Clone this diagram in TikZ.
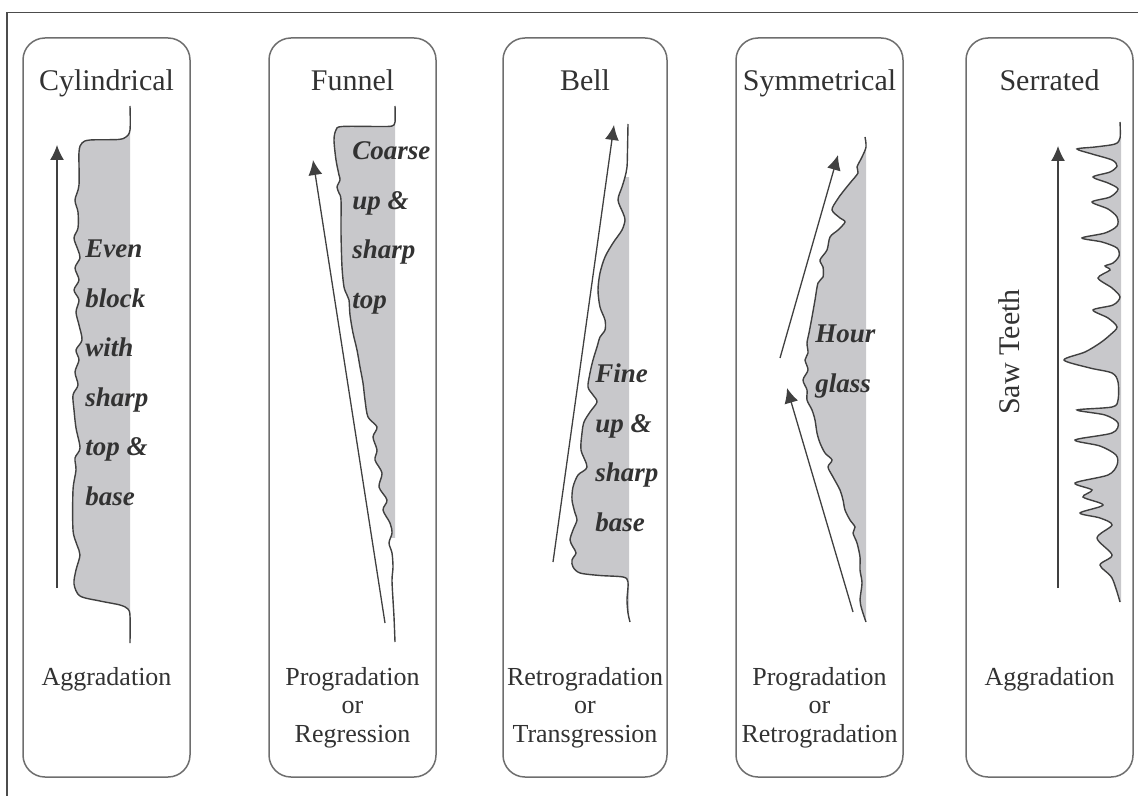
\documentclass[tikz,border=0pt]{standalone}
\usepackage{fontspec}
\setmainfont{Liberation Serif}
\usetikzlibrary{arrows.meta}
\definecolor{logfill}{RGB}{200,200,203}
\definecolor{logline}{RGB}{64,64,64}
\definecolor{boxline}{RGB}{110,110,110}
\definecolor{inktext}{RGB}{50,50,50}
\def\cylcurve{plot[smooth,tension=0.5] coordinates {(130,106) (130,130) (126,137) (118,139.5) (90,140) (82,143) (79,152) (79,185) (75,200) (78,212) (78,228) (74,238) (78,250) (80,258) (75,268) (79,280) (74,290) (79,300) (76,312) (79,325) (82,340) (76,350) (79,360) (75,372) (78,385) (73,395) (74,410) (76,428) (80,448) (75,458) (76,470) (73,490) (73,530) (77,545) (80,555) (76,570) (74,584) (80,596) (100,601) (120,605) (128,609) (130,616) (130,643)}}
\def\funcurve{plot[smooth,tension=0.5] coordinates {(395,106) (395,122) (392,126) (380,126.5) (342,126.5) (336,130) (334,140) (336,160) (339,175) (340,180) (337,187) (339,193) (341,200) (341,233) (342,267) (344,287) (347,295) (349,300) (350,315) (353,333) (357,350) (360,367) (363,383) (365,400) (368,417) (377,427) (373,437) (377,450) (375,460) (382,473) (379,487) (387,500) (383,510) (390,523) (392,533) (389,543) (392,553) (393,567) (392,580) (393,600) (394,617) (395,642)}}
\def\bellcurve{plot[smooth,tension=0.5] coordinates {(628,124) (627.5,150) (627,167) (625,177) (622,187) (618,200) (623,213) (625,220) (622,230) (613,243) (605,257) (600,273) (598,290) (600,307) (605,320) (605,330) (600,337) (597,347) (593,360) (590,373) (588,387) (593,395) (597,402) (590,412) (584,422) (582,433) (581,450) (587,467) (578,475) (573,487) (572,500) (575,513) (577,520) (573,530) (570,540) (573,547) (576,553) (572,560) (573,567) (580,573) (600,575.5) (623,577) (628,582) (627,600) (628,613) (630,622)}}
\def\symcurve{plot[smooth,tension=0.5] coordinates {(865,137) (866,147) (862,157) (857,167) (858,173) (850,183) (842,193) (837,200) (832,210) (840,218) (845,222) (838,230) (830,237) (827,250) (820,260) (823,267) (823,277) (818,283) (815,300) (812,317) (809,333) (807,343) (808,353) (805,360) (808,370) (803,380) (807,390) (807,400) (812,410) (815,420) (817,433) (820,443) (825,453) (832,460) (828,467) (833,477) (840,490) (843,500) (845,510) (850,520) (855,527) (853,533) (857,543) (860,557) (860,570) (862,583) (860,600) (862,610) (866,622)}}
\def\sercurve{plot[smooth,tension=0.5] coordinates {(1120,122) (1120,138) (1115,144) (1095,147) (1077,149) (1092,154) (1112,160) (1117,166) (1110,172) (1093,177) (1108,183) (1118,189) (1110,197) (1092,202) (1108,209) (1117,217) (1117,226) (1105,233) (1082,238) (1102,242) (1117,248) (1119,256) (1113,263) (1105,266) (1110,270) (1098,278) (1112,288) (1120,297) (1113,305) (1093,310) (1108,318) (1117,327) (1110,335) (1100,343) (1085,352) (1064,360) (1090,368) (1112,373) (1118,382) (1118,400) (1112,407) (1077,410) (1105,415) (1118,423) (1112,433) (1075,440) (1100,446) (1116,455) (1117,465) (1108,475) (1075,483) (1092,490) (1083,497) (1103,505) (1080,513) (1100,518) (1112,525) (1097,538) (1112,555) (1100,565) (1112,578) (1120,602)}}
\tikzset{
  panel/.style={draw=boxline, line width=0.75pt, rounded corners=11pt},
  gr/.style={draw=logline, line width=0.7pt},
  trend/.style={draw=logline, line width=0.65pt, -{Latex[length=7.5pt,width=7pt]}},
  title/.style={text=inktext, font=\fontsize{15}{18}\selectfont, anchor=base},
  trendname/.style={text=inktext, font=\fontsize{13}{14.25}\selectfont, align=center, anchor=base},
  note/.style={text=inktext, font=\fontsize{13.5}{24.75}\selectfont\bfseries\itshape, align=left, anchor=base west, inner sep=0pt},
}

\begin{document}
\begin{tikzpicture}[x=0.5pt,y=-0.5pt]
			%%%%% START %%%%%
			\useasboundingbox (0,0) rectangle (1138,796);
			
			\draw[draw=black!70, line width=0.65pt] (7,796) -- (7,12.5) -- (1138,12.5);
			
			\draw[panel] (23,38) rectangle (190,777);
			\draw[panel] (269,38) rectangle (436,777);
			\draw[panel] (503,38) rectangle (667,777);
			\draw[panel] (736,38) rectangle (903,777);
			\draw[panel] (966,38) rectangle (1133,777);
			
			% gray logs
			\begin{scope}
				\clip (0,0) rectangle (130,796);
				\fill[logfill] \cylcurve -- (170,643) -- (170,106) -- cycle;
			\end{scope}
			\begin{scope}
				\clip (0,0) rectangle (395,537);
				\fill[logfill] \funcurve -- (435,642) -- (435,106) -- cycle;
			\end{scope}
			\begin{scope}
				\clip (0,178) rectangle (629,796);
				\fill[logfill] \bellcurve -- (670,622) -- (670,124) -- cycle;
			\end{scope}
			\begin{scope}
				\clip (0,140) rectangle (866,796);
				\fill[logfill] \symcurve -- (900,622) -- (900,137) -- cycle;
			\end{scope}
			\begin{scope}
				\clip (0,138) rectangle (1121,796);
				\fill[logfill] \sercurve -- (1135,602) -- (1135,122) -- cycle;
			\end{scope}
			
			\draw[gr] \cylcurve;
			\draw[gr] \funcurve;
			\draw[gr] \bellcurve;
			\draw[gr] \symcurve;
			\draw[gr] \sercurve;
			
			% trend arrows
			\draw[trend] (57,588) -- (57,145);
			\draw[trend] (385,623) -- (313,160);
			\draw[trend] (553,562) -- (614,125);
			\draw[trend] (780,358) -- (838,155);
			\draw[trend] (853,612) -- (787,388);
			\draw[trend] (1058,588) -- (1058,146);
			
			\node[title] (cyltitle) at (106.5,91) {Cylindrical};
			\node[title] (funtitle) at (352.5,91) {Funnel};
			\node[title] (belltitle) at (585,91) {Bell};
			\node[title] (symtitle) at (819.5,91) {Symmetrical};
			\node[title] (sertitle) at (1049.5,91) {Serrated};
			
			% notes (base = last line)
			\node[note] (cylnote) at (85,505) {Even\\block\\with\\sharp\\top \&\\base};
			\node[note] (funnote) at (352,308) {Coarse\\up \&\\sharp\\top};
			\node[note] (bellnote) at (595,531) {Fine\\up \&\\sharp\\base};
			\node[note] (symnote) at (815,392) {Hour\\glass};
			\node[title, rotate=90] (sawnote) at (1019,352) {Saw Teeth};
			
			\node[trendname] (cyltrend) at (106.5,685) {Aggradation};
			\node[trendname] (funtrend) at (352.5,742) {Progradation\\or\\Regression};
			\node[trendname] (belltrend) at (585,742) {Retrogradation\\or\\Transgression};
			\node[trendname] (symtrend) at (819.5,742) {Progradation\\or\\Retrogradation};
			\node[trendname] (sertrend) at (1049.5,685) {Aggradation};
			
			%%%%% END %%%%%
\end{tikzpicture}
\end{document}
